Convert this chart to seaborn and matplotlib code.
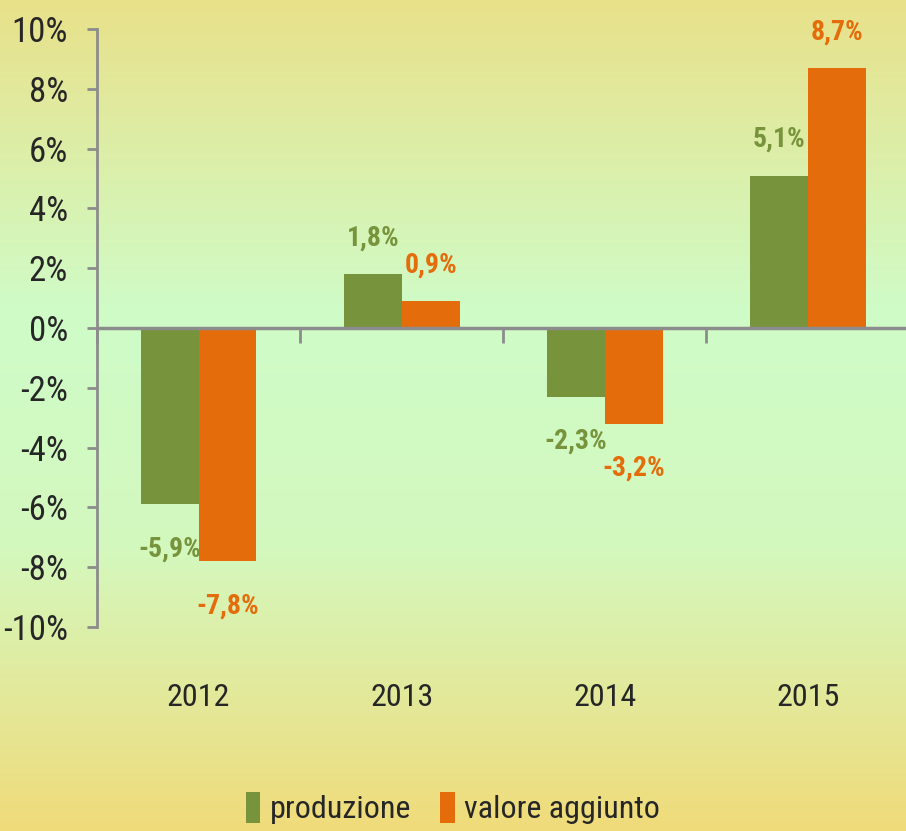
import numpy as np
import pandas as pd
import matplotlib
matplotlib.use("Agg")
import matplotlib.pyplot as plt
import seaborn as sns
from matplotlib.colors import LinearSegmentedColormap
from matplotlib.patches import Patch

# data
years = ["2012", "2013", "2014", "2015"]
produzione = [-5.9, 1.8, -2.3, 5.1]
valore_aggiunto = [-7.8, 0.9, -3.2, 8.7]
series_names = ["produzione", "valore aggiunto"]
y_ticks = [-10, -8, -6, -4, -2, 0, 2, 4, 6, 8, 10]

GREEN = "#77933C"
ORANGE = "#E46C0A"
AXIS_GREY = "#8C8C8C"

df = pd.DataFrame({
    "anno": years * 2,
    "serie": [series_names[0]] * len(years) + [series_names[1]] * len(years),
    "valore": produzione + valore_aggiunto,
})

sns.set_theme(style="white")
plt.rcParams["font.family"] = ["Roboto Condensed", "Noto Sans", "Liberation Sans"]
plt.rcParams["font.stretch"] = "condensed"

fig = plt.figure(figsize=(9.06, 8.31), dpi=100)

# gradient background (yellow -> green -> yellow)
bg = fig.add_axes([0, 0, 1, 1], zorder=-10)
grad_cmap = LinearSegmentedColormap.from_list("bg", [
    (0.0, (233/255, 225/255, 138/255)),
    (0.38, (207/255, 252/255, 200/255)),
    (0.66, (212/255, 248/255, 190/255)),
    (1.0, (240/255, 219/255, 122/255)),
])
bg.imshow(np.linspace(0, 1, 256).reshape(-1, 1), aspect="auto", cmap=grad_cmap,
          extent=[0, 1, 0, 1], origin="upper")
bg.axis("off")

ax = fig.add_axes([97/906, 1 - 627/831, 1.004 - 97/906, (627 - 29)/831])
ax.set_facecolor("none")

sns.barplot(data=df, x="anno", y="valore", hue="serie", hue_order=series_names,
            palette=[GREEN, ORANGE], width=0.57, dodge=True, saturation=1,
            edgecolor="none", ax=ax, legend=False)

ax.set_xlim(-0.5, 3.5)
ax.set_ylim(-10, 10)
ax.set_xlabel("")
ax.set_ylabel("")

# value labels
for container, color in zip(ax.containers, [GREEN, ORANGE]):
    for bar in container:
        v = bar.get_height()
        x = bar.get_x() + bar.get_width() / 2
        txt = f"{v:.1f}%".replace(".", ",")
        offset = 26 if v >= 0 else -32
        ax.annotate(txt, (x, v), xytext=(0, offset), textcoords="offset points",
                    ha="center", va="center", color=color, fontsize=20,
                    fontweight="bold", clip_on=False)

# axes styling
for side in ["top", "right"]:
    ax.spines[side].set_visible(False)
ax.spines["left"].set_color(AXIS_GREY)
ax.spines["left"].set_linewidth(2)
ax.spines["bottom"].set_position(("data", 0))
ax.spines["bottom"].set_color(AXIS_GREY)
ax.spines["bottom"].set_linewidth(2.5)

ax.set_yticks(y_ticks)
ax.set_yticklabels([f"{t}%" for t in y_ticks])
ax.tick_params(axis="y", direction="out", length=7, width=2, color=AXIS_GREY,
               labelsize=25, pad=14, left=True)

ax.set_xticks(range(len(years)))
ax.set_xticklabels([])
ax.tick_params(axis="x", which="major", length=0)
ax.set_xticks(np.arange(-0.5, len(years), 1.0), minor=True)
ax.tick_params(axis="x", which="minor", direction="out", length=11, width=2,
               color=AXIS_GREY, bottom=True)

for i, yr in enumerate(years):
    ax.text(i, -12.35, yr, ha="center", va="center", fontsize=23, clip_on=False)

# legend
handles = [Patch(facecolor=GREEN, edgecolor="none"),
           Patch(facecolor=ORANGE, edgecolor="none")]
fig.legend(handles, series_names, loc="center", bbox_to_anchor=(0.5, 1 - 808/831),
           ncol=2, frameon=False, fontsize=23, handlelength=0.45, handleheight=1.1,
           handletextpad=0.3, columnspacing=0.9)

fig.savefig("out.png", dpi=100)
